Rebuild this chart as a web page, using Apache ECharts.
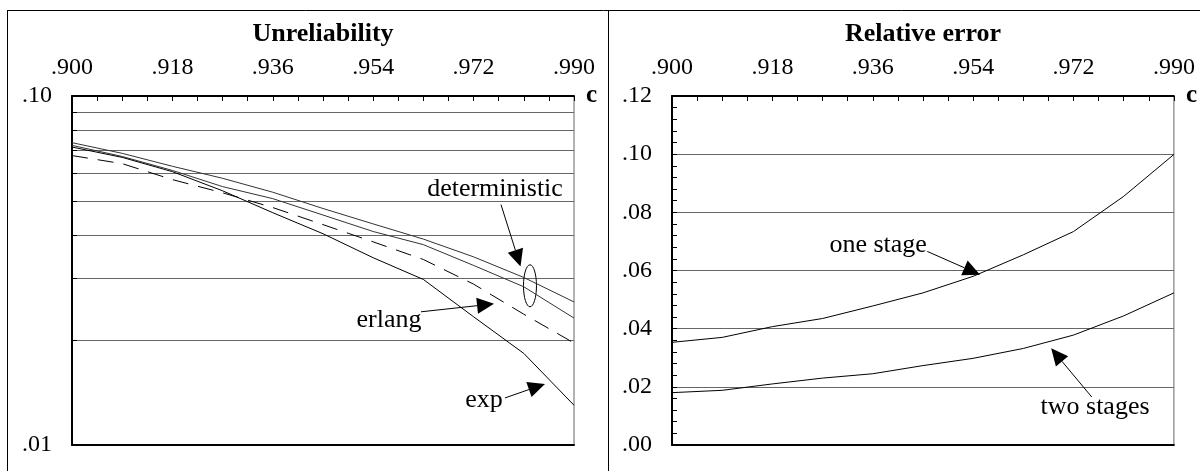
<!DOCTYPE html>
<html><head><meta charset="utf-8">
<script src="https://cdn.jsdelivr.net/npm/echarts@6/dist/echarts.min.js"></script>
<style>html,body{margin:0;padding:0;background:#fff}#c{width:1200px;height:471px}</style>
</head><body><div id="c"></div>
<script>
// ---- data ----
const cValues = [0.900, 0.909, 0.918, 0.927, 0.936, 0.945, 0.954, 0.963, 0.972, 0.981, 0.990];
const unrelDetA   = [0.0735, 0.0685, 0.0629, 0.0581, 0.0530, 0.0476, 0.0430, 0.0389, 0.0346, 0.0302, 0.0257];
const unrelDetB   = [0.0722, 0.0671, 0.0612, 0.0550, 0.0508, 0.0456, 0.0409, 0.0375, 0.0327, 0.0284, 0.0231];
const unrelErlang = [0.0675, 0.0640, 0.0576, 0.0528, 0.0479, 0.0428, 0.0382, 0.0340, 0.0289, 0.0237, 0.0196];
const unrelExp    = [0.0714, 0.0667, 0.0607, 0.0535, 0.0463, 0.0403, 0.0344, 0.0298, 0.0233, 0.0183, 0.0130];
const relErrOne   = [0.0353, 0.0370, 0.0407, 0.0435, 0.0478, 0.0523, 0.0580, 0.0654, 0.0734, 0.0855, 0.0999];
const relErrTwo   = [0.0180, 0.0188, 0.0210, 0.0230, 0.0245, 0.0273, 0.0298, 0.0332, 0.0378, 0.0444, 0.0523];
const unrelTicks  = [0.01, 0.02, 0.03, 0.04, 0.05, 0.06, 0.07, 0.08, 0.09, 0.10];
const unrelLabels = [0.01, 0.10];
const titles = ['Unreliability', 'Relative error'];

// annotations in data coordinates
const annotations = [
  {axis: 0, text: 'deterministic', at: [0.97584, 0.05392], tail: [0.97691, 0.04885], tip: [0.98041, 0.03248]},
  {axis: 0, text: 'erlang', at: [0.95683, 0.02284], tail: [0.96257, 0.02408], tip: [0.97566, 0.02538]},
  {axis: 0, text: 'exp', at: [0.97386, 0.01346], tail: [0.97762, 0.01364], tip: [0.98480, 0.01496]},
  {axis: 1, text: 'one stage', at: [0.93697, 0.06883], tail: [0.94577, 0.06656], tip: [0.95523, 0.05857]},
  {axis: 1, text: 'two stages', at: [0.97586, 0.01305], tail: [0.97527, 0.01649], tip: [0.96799, 0.03323]}
];
const ellipseAt = [0.98211, 0.02859];

const FONT = '"Liberation Serif", "Times New Roman", serif';
const fmtC = v => v.toFixed(3).replace(/^0/, '');
const pairs = arr => cValues.map((c, i) => [c, arr[i]]);

const chart = echarts.init(document.getElementById('c'), null, {renderer: 'canvas'});

const grids = [
  {left: 72, top: 96, width: 502, height: 349, show: true, borderColor: '#666', borderWidth: 1},
  {left: 672, top: 96, width: 502, height: 349, show: true, borderColor: '#666', borderWidth: 1}
];

function topX(gi) {
  return {
    type: 'value', gridIndex: gi, position: 'top', min: 0.9, max: 0.99, interval: 0.018,
    name: 'c', nameLocation: 'end', nameGap: 12,
    nameTextStyle: {fontFamily: FONT, fontSize: 25, fontWeight: 'bold', color: '#000', verticalAlign: 'middle'},
    axisLine: {show: true, onZero: false, lineStyle: {color: '#000', width: 2}},
    axisTick: {show: true, inside: true, length: 5, lineStyle: {color: '#000', width: 1}},
    minorTick: {show: true, splitNumber: 4, length: 5, lineStyle: {color: '#000', width: 1}},
    axisLabel: {show: true, margin: 16, fontFamily: FONT, fontSize: 24, color: '#000', formatter: fmtC,
      showMinLabel: true, showMaxLabel: true},
    splitLine: {show: false}
  };
}
function bottomX(gi) {
  return {
    type: 'value', gridIndex: gi, position: 'bottom', min: 0.9, max: 0.99,
    axisLine: {show: true, onZero: false, lineStyle: {color: '#000', width: 2}},
    axisTick: {show: false}, axisLabel: {show: false}, splitLine: {show: false}
  };
}

const option = {
  animation: false,
  backgroundColor: '#fff',
  grid: grids,
  xAxis: [topX(0), topX(1), bottomX(0), bottomX(1)],
  yAxis: [
    {
      type: 'log', logBase: 10, gridIndex: 0, min: 0.01, max: 0.1,
      axisLine: {show: true, onZero: false, lineStyle: {color: '#000', width: 2}},
      axisTick: {show: true, inside: true, length: 5, customValues: unrelTicks, lineStyle: {color: '#000'}},
      axisLabel: {show: true, margin: 20, customValues: unrelLabels, fontFamily: FONT, fontSize: 24, color: '#000',
        formatter: v => v.toFixed(2).replace(/^0/, '')},
      splitLine: {show: true, lineStyle: {color: '#666', width: 1}}
    },
    {
      type: 'value', gridIndex: 1, min: 0, max: 0.12, interval: 0.02,
      axisLine: {show: true, onZero: false, lineStyle: {color: '#000', width: 2}},
      axisTick: {show: true, inside: true, length: 5, lineStyle: {color: '#000'}},
      minorTick: {show: true, splitNumber: 5, length: 5, lineStyle: {color: '#000'}},
      axisLabel: {show: true, margin: 20, fontFamily: FONT, fontSize: 24, color: '#000',
        formatter: v => v.toFixed(2).replace(/^0/, '')},
      splitLine: {show: true, lineStyle: {color: '#666', width: 1}}
    }
  ],
  series: [
    {type: 'line', name: 'deterministic A', xAxisIndex: 0, yAxisIndex: 0, data: pairs(unrelDetA), symbol: 'none', lineStyle: {color: '#333', width: 1}},
    {type: 'line', name: 'deterministic B', xAxisIndex: 0, yAxisIndex: 0, data: pairs(unrelDetB), symbol: 'none', lineStyle: {color: '#333', width: 1}},
    {type: 'line', name: 'erlang', xAxisIndex: 0, yAxisIndex: 0, data: pairs(unrelErlang), symbol: 'none', lineStyle: {color: '#000', width: 1, type: [16, 10]}},
    {type: 'line', name: 'exp', xAxisIndex: 0, yAxisIndex: 0, data: pairs(unrelExp), symbol: 'none', lineStyle: {color: '#000', width: 1}},
    {type: 'line', name: 'one stage', xAxisIndex: 1, yAxisIndex: 1, data: pairs(relErrOne), symbol: 'none', lineStyle: {color: '#000', width: 1}},
    {type: 'line', name: 'two stages', xAxisIndex: 1, yAxisIndex: 1, data: pairs(relErrTwo), symbol: 'none', lineStyle: {color: '#000', width: 1}}
  ]
};
chart.setOption(option);

// ---- decorations computed from the axes ----
const g = [];
// outer frame
g.push({type: 'line', shape: {x1: 7, y1: 10.5, x2: 1200, y2: 10.5}, style: {stroke: '#000', lineWidth: 1}});
g.push({type: 'line', shape: {x1: 7.5, y1: 10, x2: 7.5, y2: 471}, style: {stroke: '#000', lineWidth: 1}});
g.push({type: 'line', shape: {x1: 608.5, y1: 10, x2: 608.5, y2: 471}, style: {stroke: '#000', lineWidth: 1}});
// titles
grids.forEach((gr, i) => {
  g.push({type: 'text', x: gr.left + gr.width / 2, y: 34,
    style: {text: titles[i], font: 'bold 26px ' + FONT, fill: '#000', textAlign: 'center', textVerticalAlign: 'middle'}});
});
const toPx = (ax, p) => chart.convertToPixel({xAxisIndex: ax, yAxisIndex: ax}, p);
annotations.forEach(a => {
  const t = toPx(a.axis, a.at), T = toPx(a.axis, a.tail), P = toPx(a.axis, a.tip);
  g.push({type: 'text', x: t[0], y: t[1], style: {text: a.text, font: '26px ' + FONT, fill: '#000', textAlign: 'center', textVerticalAlign: 'middle'}});
  const dx = P[0] - T[0], dy = P[1] - T[1], len = Math.hypot(dx, dy);
  const ux = dx / len, uy = dy / len, nx = -uy, ny = ux, L = 17, W = 8;
  const bx = P[0] - ux * L, by = P[1] - uy * L;
  g.push({type: 'line', shape: {x1: T[0], y1: T[1], x2: bx, y2: by}, style: {stroke: '#000', lineWidth: 1}});
  g.push({type: 'polygon', shape: {points: [[P[0], P[1]], [bx + nx * W, by + ny * W], [bx - nx * W, by - ny * W]]}, style: {fill: '#000'}});
});
const e = toPx(0, ellipseAt);
g.push({type: 'ellipse', shape: {cx: e[0], cy: e[1], rx: 6.5, ry: 21}, style: {fill: 'none', stroke: '#000', lineWidth: 1}});
chart.setOption({graphic: g});
</script>
</body></html>
